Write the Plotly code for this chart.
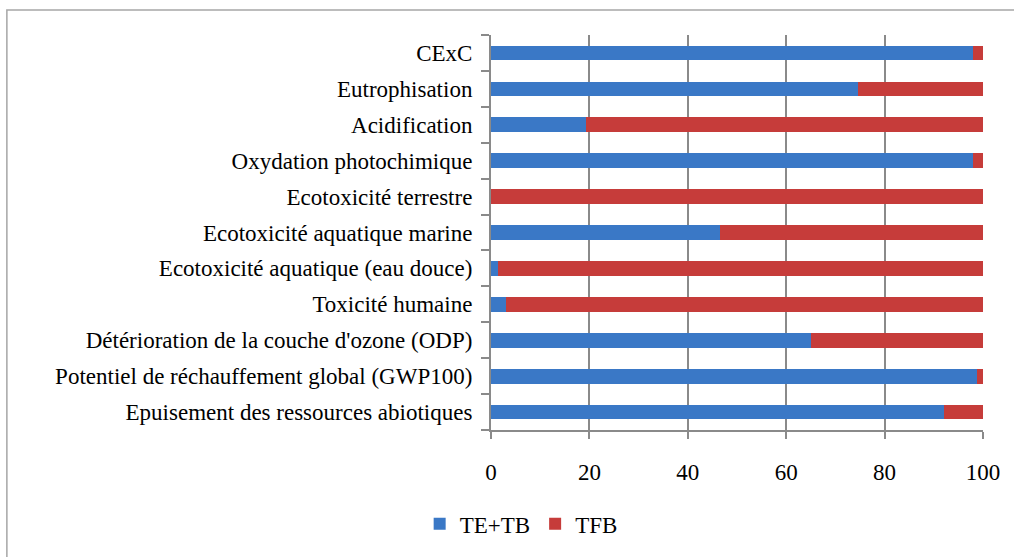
import plotly.graph_objects as go

# Impact categories, listed bottom to top
categories = [
    "Epuisement des ressources abiotiques",
    "Potentiel de réchauffement global (GWP100)",
    "Détérioration de la couche d'ozone (ODP)",
    "Toxicité humaine",
    "Ecotoxicité aquatique (eau douce)",
    "Ecotoxicité aquatique marine",
    "Ecotoxicité terrestre",
    "Oxydation photochimique",
    "Acidification",
    "Eutrophisation",
    "CExC",
]

# Share of each impact (%)
te_tb = [92.0, 98.8, 65.0, 3.0, 1.5, 46.6, 0.0, 98.0, 19.4, 74.5, 98.0]
tfb = [8.0, 1.2, 35.0, 97.0, 98.5, 53.4, 100.0, 2.0, 80.6, 25.5, 2.0]

x_ticks = [0, 20, 40, 60, 80, 100]

FONT = "Liberation Serif, Times New Roman, serif"
FONT_SIZE = 23
AXIS_GREY = "#8a8a8a"

fig = go.Figure()
fig.add_trace(go.Bar(
    y=categories, x=te_tb, orientation="h", name="TE+TB",
    marker=dict(color="#3a78c6", line=dict(width=0)),
))
fig.add_trace(go.Bar(
    y=categories, x=tfb, orientation="h", name="TFB",
    marker=dict(color="#c63c3a", line=dict(width=0)),
))

fig.update_layout(
    width=1014, height=557,
    barmode="stack", bargap=0.59,
    paper_bgcolor="white", plot_bgcolor="white",
    margin=dict(l=491, r=31, t=35, b=122),
    font=dict(family=FONT, size=FONT_SIZE, color="black"),
    showlegend=True,
    legend=dict(
        orientation="h", traceorder="normal",
        x=-0.145, xanchor="left", y=-0.2375, yanchor="middle",
        font=dict(family=FONT, size=FONT_SIZE, color="black"),
        itemwidth=30, tracegroupgap=0,
    ),
    xaxis=dict(
        range=[0, 100], tickvals=x_ticks, ticktext=[str(v) for v in x_ticks],
        tickfont=dict(family=FONT, size=FONT_SIZE, color="black"),
        showgrid=True, gridcolor=AXIS_GREY, gridwidth=1.5,
        showline=True, linecolor=AXIS_GREY, linewidth=1.5,
        ticks="outside", ticklen=7, tickcolor=AXIS_GREY, tickwidth=1.5,
        ticklabelstandoff=14, zeroline=False, fixedrange=True,
    ),
    yaxis=dict(
        type="category", categoryorder="array", categoryarray=categories,
        tickfont=dict(family=FONT, size=FONT_SIZE, color="black"),
        showline=True, linecolor=AXIS_GREY, linewidth=2,
        ticks="outside", ticklen=8, tickcolor=AXIS_GREY, tickwidth=1.5,
        tickson="boundaries", ticklabelstandoff=12,
        showgrid=False, fixedrange=True,
    ),
    shapes=[dict(
        type="rect", xref="paper", yref="paper",
        x0=-0.984, x1=1.3, y0=-0.6, y1=1.063,
        line=dict(color="#a6a6a6", width=1.5), fillcolor="rgba(0,0,0,0)",
        layer="below",
    )],
)

fig.write_html("out.html")
